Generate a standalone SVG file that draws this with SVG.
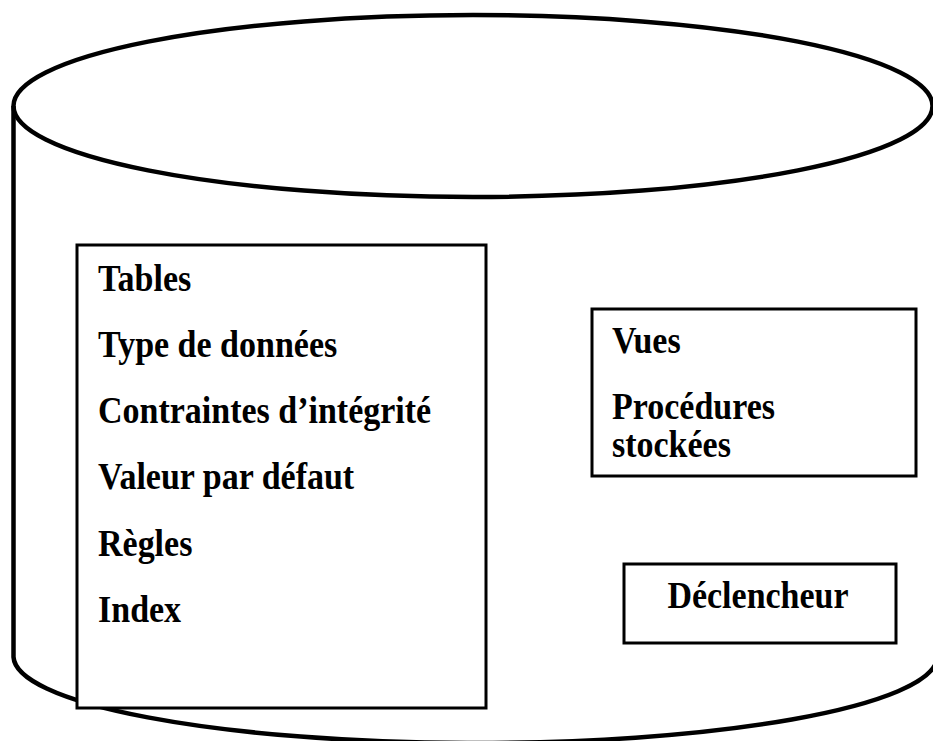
<svg xmlns="http://www.w3.org/2000/svg" width="933" height="741" viewBox="0 0 933 741">
  <style>
    .cyl { fill: none; stroke: #000; stroke-width: 4.5; }
    .box { fill: #fff; stroke: #000; stroke-width: 3; }
    .lbl { font-family: "Liberation Serif", "Times New Roman", serif; font-weight: bold; font-size: 34px; fill: #000; }
  </style>
  <rect width="933" height="741" fill="#fff"/>

  <!-- database cylinder -->
  <g id="database">
    <ellipse class="cyl" cx="473" cy="106" rx="459.5" ry="91"/>
    <path class="cyl" d="M13.5,106 V657 A462,87 0 0 0 937,660"/>
  </g>

  <!-- schema objects (labels slightly tall, as set in the source document) -->
  <g id="schema-objects">
    <rect class="box" x="77" y="245" width="409" height="463"/>
    <text class="lbl" transform="translate(98,291) scale(1,1.09)">Tables</text>
    <text class="lbl" transform="translate(98,357) scale(1,1.09)">Type de données</text>
    <text class="lbl" transform="translate(98,423) scale(1,1.09)">Contraintes d’intégrité</text>
    <text class="lbl" transform="translate(98,489) scale(1,1.09)">Valeur par défaut</text>
    <text class="lbl" transform="translate(98,556) scale(1,1.09)">Règles</text>
    <text class="lbl" transform="translate(98,622) scale(1,1.09)">Index</text>
  </g>

  <!-- views and stored procedures -->
  <g id="views-procedures">
    <rect class="box" x="592" y="309" width="324" height="167"/>
    <text class="lbl" transform="translate(612,353) scale(1,1.09)">Vues</text>
    <text class="lbl" transform="translate(612,419) scale(1,1.09)">Procédures</text>
    <text class="lbl" transform="translate(612,457) scale(1,1.09)">stockées</text>
  </g>

  <!-- trigger -->
  <g id="trigger">
    <rect class="box" x="624" y="564" width="272" height="79"/>
    <text class="lbl" text-anchor="middle" transform="translate(758,608) scale(1,1.09)">Déclencheur</text>
  </g>

  <g id="connectors"/>
</svg>
